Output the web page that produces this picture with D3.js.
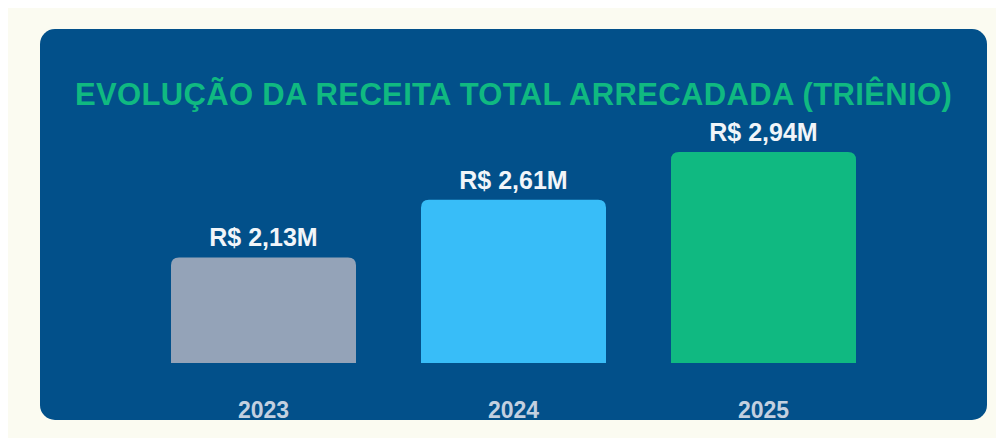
<!DOCTYPE html>
<html lang="pt-BR">
<head>
    <meta charset="UTF-8">
    <title>Evolução da Receita Total</title>
    <script src="https://d3js.org/d3.v7.min.js"></script>
    <style>
        html, body {
            margin: 0;
            background: #ffffff;
        }
        .wrap {
            position: absolute;
            left: 8px;
            top: 8px;
            width: 988px;
            height: 430px;
            background: #fbfbf1;
        }
        text {
            font-family: "Liberation Sans", Arial, sans-serif;
            font-weight: bold;
        }
    </style>
</head>
<body>
    <div class="wrap"></div>
    <div id="chart" style="position:absolute;left:0;top:0;"></div>

    <script>
      const years = ["2023", "2024", "2025"];
      const revenue = [2.13, 2.61, 2.94];
      const valueLabels = ["R$ 2,13M", "R$ 2,61M", "R$ 2,94M"];
      const barColors = ["#94a3b8", "#38bdf8", "#10b981"];
      const title = "EVOLUÇÃO DA RECEITA TOTAL ARRECADADA (TRIÊNIO)";

      const W = 996, H = 438;
      const panel = { x: 40, y: 29, w: 947, h: 391, r: 15 };
      const baseY = 363;

      const svg = d3.select("#chart")
        .append("svg")
        .attr("width", W)
        .attr("height", H);

      // clip so the year labels get cut by the panel edge like the original
      svg.append("defs").append("clipPath")
        .attr("id", "panelClip")
        .append("rect")
        .attr("x", panel.x).attr("y", panel.y)
        .attr("width", panel.w).attr("height", panel.h)
        .attr("rx", panel.r);

      svg.append("rect")
        .attr("x", panel.x).attr("y", panel.y)
        .attr("width", panel.w).attr("height", panel.h)
        .attr("rx", panel.r)
        .attr("fill", "#02508a");

      const g = svg.append("g").attr("clip-path", "url(#panelClip)");

      g.append("text")
        .attr("x", panel.x + panel.w / 2)
        .attr("y", 105)
        .attr("text-anchor", "middle")
        .attr("fill", "#10b981")
        .style("font-size", "31px")
        .style("letter-spacing", "0.35px")
        .text(title);

      const data = years.map((y, i) => ({ year: y, value: revenue[i], label: valueLabels[i], color: barColors[i] }));

      const x = d3.scaleBand()
        .domain(years)
        .range([64, 963])
        .paddingInner(0.26)
        .paddingOuter(0.428);

      // bar heights in the original grow faster than linear
      const y = d3.scalePow()
        .exponent(2.15)
        .domain([0, d3.max(revenue)])
        .range([baseY, 152]);

      const r = 8;
      function barPath(d) {
        const x0 = x(d.year), x1 = x0 + x.bandwidth();
        const top = y(d.value);
        return `M${x0},${baseY} V${top + r} Q${x0},${top} ${x0 + r},${top} H${x1 - r} Q${x1},${top} ${x1},${top + r} V${baseY} Z`;
      }

      g.selectAll(".bar")
        .data(data)
        .enter().append("path")
        .attr("class", "bar")
        .attr("d", barPath)
        .attr("fill", d => d.color);

      g.selectAll(".val")
        .data(data)
        .enter().append("text")
        .attr("class", "val")
        .attr("x", d => x(d.year) + x.bandwidth() / 2)
        .attr("y", d => y(d.value) - 11)
        .attr("text-anchor", "middle")
        .attr("fill", "#f1f5f9")
        .style("font-size", "25px")
        .text(d => d.label);

      // year axis, no line or ticks
      const axis = g.append("g")
        .attr("transform", `translate(0, ${baseY})`)
        .call(d3.axisBottom(x).tickSize(0).tickPadding(39));
      axis.select(".domain").remove();
      axis.selectAll("text")
        .attr("fill", "#c3d0e0")
        .style("font-size", "23px")
        .style("font-family", "'Liberation Sans', Arial, sans-serif")
        .style("font-weight", "bold");
    </script>
</body>
</html>
